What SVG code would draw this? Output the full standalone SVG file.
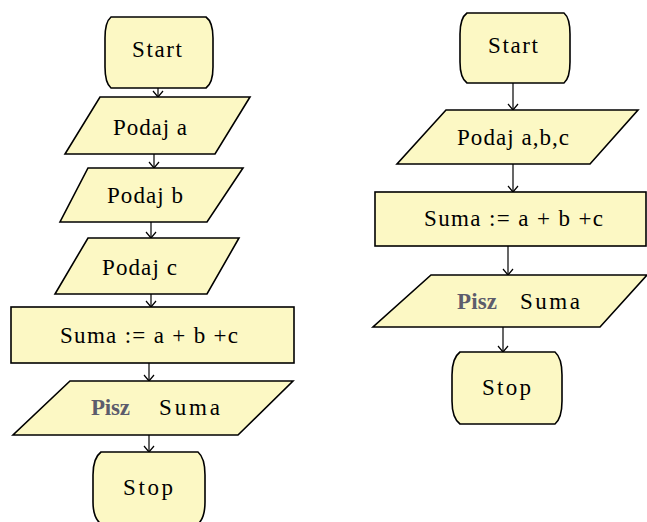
<svg xmlns="http://www.w3.org/2000/svg" width="647" height="522" viewBox="0 0 647 522">
<style>
.shape{fill:#fcf8c4;stroke:#000;stroke-width:1.6}
.t{font-family:"Liberation Serif","Times New Roman",serif;font-size:23px;fill:#000}
.pisz{fill:#5c5c6c;font-weight:bold}
.conn line{stroke:#000;stroke-width:1.2}
</style>
<defs>
<marker id="v" viewBox="0 0 12 10" refX="6" refY="9" markerWidth="12" markerHeight="10" markerUnits="userSpaceOnUse" orient="0">
<polyline points="1,3 6,9 11,3" fill="none" stroke="#000" stroke-width="1.2"/>
</marker>
</defs>
<rect width="647" height="522" fill="#fff"/>

<g id="connectors" class="conn">
<line x1="158" y1="88" x2="158" y2="97" marker-end="url(#v)"/>
<line x1="154" y1="154" x2="154" y2="168" marker-end="url(#v)"/>
<line x1="151" y1="222" x2="151" y2="238" marker-end="url(#v)"/>
<line x1="151" y1="294" x2="151" y2="307" marker-end="url(#v)"/>
<line x1="149" y1="363" x2="149" y2="381" marker-end="url(#v)"/>
<line x1="149" y1="435" x2="149" y2="452" marker-end="url(#v)"/>
<line x1="513" y1="83" x2="513" y2="110" marker-end="url(#v)"/>
<line x1="513" y1="164" x2="513" y2="192" marker-end="url(#v)"/>
<line x1="508" y1="246" x2="508" y2="275" marker-end="url(#v)"/>
<line x1="503" y1="327" x2="503" y2="352" marker-end="url(#v)"/>
</g>

<g id="L_start">
<path class="shape" d="M111,17 L206,17 Q213,22 213,38 L213,67 Q213,83 206,88 L111,88 Q105,83 105,67 L105,38 Q105,22 111,17 Z"/>
<text class="t" x="132" y="57" textLength="50">Start</text>
</g>
<g id="L_podaj_a">
<polygon class="shape" points="100,97 250,97 215,154 65,154"/>
<text class="t" x="113" y="135" textLength="74">Podaj a</text>
</g>
<g id="L_podaj_b">
<polygon class="shape" points="88,168 243,168 207,222 60,222"/>
<text class="t" x="107" y="203" textLength="76">Podaj b</text>
</g>
<g id="L_podaj_c">
<polygon class="shape" points="88,238 239,238 207,294 55,294"/>
<text class="t" x="102" y="275" textLength="75">Podaj c</text>
</g>
<g id="L_suma">
<rect class="shape" x="11" y="307" width="283" height="56"/>
<text class="t" x="60" y="343" textLength="178">Suma := a + b +c</text>
</g>
<g id="L_pisz">
<polygon class="shape" points="70,381 293,381 238,435 13,435"/>
<text class="t pisz" x="91" y="415" textLength="39">Pisz</text>
<text class="t" x="159" y="415" textLength="61">Suma</text>
</g>
<g id="L_stop">
<path class="shape" d="M101,452 L198,452 Q205,458 205,475 L205,502 Q205,518 198,524 L101,524 Q93,518 93,502 L93,475 Q93,458 101,452 Z"/>
<text class="t" x="123" y="495" textLength="50">Stop</text>
</g>

<g id="R_start">
<path class="shape" d="M467,13 L564,13 Q570,18 570,34 L570,62 Q570,78 564,83 L467,83 Q460,78 460,62 L460,34 Q460,18 467,13 Z"/>
<text class="t" x="488" y="53" textLength="50">Start</text>
</g>
<g id="R_podaj">
<polygon class="shape" points="446,110 638,110 590,164 397,164"/>
<text class="t" x="457" y="145" textLength="112">Podaj a,b,c</text>
</g>
<g id="R_suma">
<rect class="shape" x="375" y="192" width="271" height="54"/>
<text class="t" x="424" y="226" textLength="179">Suma := a + b +c</text>
</g>
<g id="R_pisz">
<polygon class="shape" points="431,275 647,275 600,327 373,327"/>
<text class="t pisz" x="457" y="309" textLength="40">Pisz</text>
<text class="t" x="520" y="309" textLength="60">Suma</text>
</g>
<g id="R_stop">
<path class="shape" d="M460,352 L555,352 Q562,358 562,375 L562,401 Q562,418 555,424 L460,424 Q452,418 452,401 L452,375 Q452,358 460,352 Z"/>
<text class="t" x="482" y="395" textLength="49">Stop</text>
</g>
</svg>
